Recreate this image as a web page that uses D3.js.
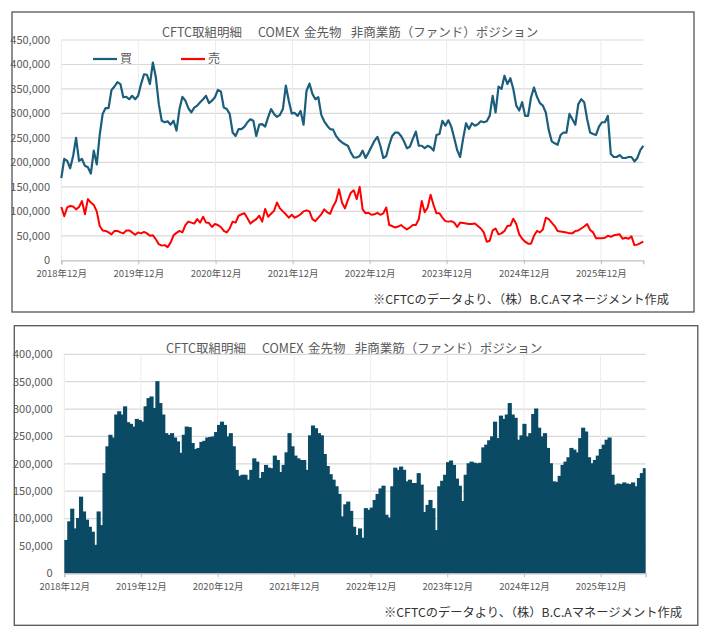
<!DOCTYPE html>
<html>
<head>
<meta charset="utf-8">
<title>CFTC COMEX 金先物</title>
<script src="https://cdnjs.cloudflare.com/ajax/libs/d3/7.8.5/d3.min.js"></script>
<style>
  body { margin: 0; background: #fff; }
  text { font-family: "Noto Sans CJK JP", "Noto Sans", sans-serif; }
</style>
</head>
<body>
<script>
// 2週間ごとの読み取り値（枚数）
const startDate = new Date(2018, 11, 1);
const stepDays = 14;

const longs = [
  168000, 207000, 203000, 188000, 213000, 250000, 203000, 207000, 193000, 190000,
  177000, 224000, 196000, 256000, 299000, 311000, 311000, 348000, 355000, 364000,
  360000, 333000, 334000, 329000, 336000, 329000, 336000, 360000, 380000, 379000,
  360000, 404000, 374000, 319000, 285000, 282000, 284000, 277000, 285000, 265000,
  309000, 334000, 326000, 311000, 302000, 312000, 316000, 323000, 329000, 336000,
  321000, 326000, 333000, 348000, 345000, 312000, 309000, 299000, 261000, 254000,
  268000, 268000, 273000, 282000, 288000, 285000, 254000, 277000, 278000, 273000,
  292000, 309000, 299000, 293000, 297000, 309000, 357000, 326000, 300000, 301000,
  295000, 305000, 277000, 346000, 361000, 340000, 329000, 333000, 297000, 284000,
  275000, 268000, 267000, 254000, 246000, 241000, 237000, 234000, 220000, 210000,
  210000, 213000, 224000, 209000, 220000, 232000, 244000, 252000, 234000, 209000,
  213000, 236000, 254000, 261000, 261000, 254000, 243000, 229000, 232000, 248000,
  263000, 234000, 234000, 229000, 234000, 231000, 224000, 256000, 258000, 285000,
  275000, 286000, 273000, 250000, 225000, 211000, 248000, 280000, 268000, 280000,
  275000, 278000, 284000, 282000, 284000, 295000, 336000, 302000, 355000, 350000,
  377000, 360000, 372000, 350000, 316000, 306000, 323000, 295000, 295000, 333000,
  353000, 334000, 321000, 316000, 302000, 266000, 243000, 239000, 236000, 256000,
  261000, 261000, 299000, 288000, 277000, 319000, 329000, 323000, 288000, 261000,
  258000, 256000, 273000, 282000, 282000, 295000, 217000, 211000, 211000, 215000,
  209000, 209000, 211000, 211000, 202000, 209000, 225000, 234000
];

const shorts = [
  109000, 90000, 108000, 111000, 110000, 104000, 109000, 121000, 94000, 125000,
  118000, 113000, 100000, 70000, 61000, 60000, 57000, 53000, 60000, 60000,
  57000, 55000, 61000, 61000, 57000, 52000, 57000, 55000, 58000, 55000,
  50000, 51000, 43000, 33000, 30000, 31000, 27000, 36000, 51000, 56000,
  60000, 57000, 72000, 79000, 77000, 75000, 84000, 77000, 89000, 77000,
  76000, 68000, 74000, 72000, 68000, 60000, 57000, 65000, 79000, 77000,
  91000, 94000, 96000, 86000, 75000, 80000, 84000, 91000, 79000, 105000,
  89000, 95000, 101000, 118000, 106000, 100000, 94000, 87000, 93000, 87000,
  90000, 94000, 100000, 102000, 100000, 84000, 80000, 87000, 94000, 104000,
  98000, 95000, 110000, 121000, 145000, 118000, 106000, 123000, 138000, 143000,
  125000, 150000, 104000, 96000, 97000, 93000, 94000, 97000, 93000, 96000,
  108000, 72000, 70000, 67000, 69000, 72000, 67000, 63000, 67000, 72000,
  72000, 84000, 121000, 98000, 108000, 134000, 113000, 96000, 96000, 87000,
  80000, 79000, 80000, 77000, 68000, 77000, 76000, 75000, 74000, 74000,
  75000, 70000, 65000, 57000, 38000, 40000, 61000, 65000, 53000, 55000,
  60000, 70000, 71000, 85000, 74000, 53000, 44000, 38000, 34000, 34000,
  50000, 60000, 57000, 63000, 87000, 84000, 77000, 70000, 60000, 59000,
  58000, 57000, 55000, 55000, 60000, 61000, 65000, 69000, 74000, 62000,
  57000, 45000, 45000, 45000, 46000, 50000, 48000, 51000, 52000, 53000,
  44000, 46000, 44000, 49000, 31000, 32000, 35000, 38000
];

const nets = [
  61000, 95000, 118000, 82000, 101000, 140000, 113000, 98000, 85000, 76000,
  52000, 113000, 88000, 183000, 232000, 253000, 248000, 290000, 296000, 290000,
  305000, 276000, 273000, 268000, 282000, 280000, 277000, 305000, 320000, 323000,
  302000, 351000, 311000, 290000, 256000, 253000, 256000, 248000, 241000, 220000,
  253000, 268000, 267000, 238000, 227000, 229000, 240000, 242000, 248000, 249000,
  250000, 258000, 271000, 277000, 271000, 250000, 256000, 232000, 189000, 178000,
  180000, 180000, 171000, 189000, 210000, 204000, 174000, 185000, 198000, 193000,
  192000, 215000, 207000, 185000, 198000, 221000, 256000, 232000, 215000, 210000,
  207000, 207000, 189000, 252000, 270000, 265000, 256000, 252000, 218000, 196000,
  181000, 171000, 159000, 145000, 104000, 126000, 131000, 114000, 85000, 70000,
  82000, 65000, 119000, 116000, 120000, 134000, 145000, 155000, 160000, 107000,
  102000, 159000, 193000, 189000, 195000, 189000, 168000, 171000, 165000, 165000,
  183000, 162000, 112000, 125000, 134000, 119000, 79000, 159000, 169000, 180000,
  203000, 206000, 198000, 173000, 160000, 132000, 180000, 201000, 204000, 202000,
  201000, 202000, 230000, 235000, 243000, 250000, 277000, 247000, 288000, 282000,
  290000, 311000, 290000, 284000, 244000, 252000, 273000, 250000, 256000, 291000,
  301000, 266000, 250000, 256000, 229000, 201000, 168000, 167000, 178000, 198000,
  204000, 212000, 229000, 226000, 221000, 247000, 266000, 259000, 212000, 201000,
  207000, 215000, 227000, 235000, 244000, 248000, 180000, 162000, 164000, 163000,
  166000, 164000, 163000, 166000, 159000, 174000, 183000, 192000
];

const tickLabels = ["2018年12月", "2019年12月", "2020年12月", "2021年12月",
                    "2022年12月", "2023年12月", "2024年12月", "2025年12月"];
const tickDates = [new Date(2018, 11, 1), new Date(2019, 11, 1), new Date(2020, 11, 1),
                   new Date(2021, 11, 1), new Date(2022, 11, 1), new Date(2023, 11, 1),
                   new Date(2024, 11, 1), new Date(2025, 11, 1)];

const titleParts = ["CFTC取組明細", "COMEX", "金先物", "非商業筋（ファンド）ポジション"];
const sourceText = "※CFTCのデータより、（株）B.C.Aマネージメント作成";
const seriesNames = ["買", "売"];

const dates = longs.map((d, i) => d3.timeDay.offset(startDate, i * stepDays));

const W = 709, H = 644;
const blue = "#1b5e7b", red = "#ff0000", barColor = "#0b4a64";
const gray = "#595959";
const fmt = d3.format(",");

const svg = d3.select("body").append("svg")
  .attr("width", W)
  .attr("height", H);

function drawFrame(x, y, w, h) {
  svg.append("rect")
    .attr("x", x).attr("y", y)
    .attr("width", w).attr("height", h)
    .attr("fill", "#fff")
    .attr("stroke", "#555")
    .attr("stroke-width", 1.3);
}

function drawTitle(x0, yb) {
  const offs = [0, 96, 142, 188.7];
  titleParts.forEach((t, i) => {
    svg.append("text")
      .attr("x", x0 + offs[i]).attr("y", yb)
      .attr("font-size", 12.5)
      .attr("fill", gray)
      .text(t);
  });
}

function drawGrid(xs, ys, yTicks) {
  const g = svg.append("g");
  g.selectAll(".hg").data(yTicks.filter(d => d > 0)).enter().append("line")
    .attr("x1", xs.range()[0]).attr("x2", xs.range()[1])
    .attr("y1", d => ys(d)).attr("y2", d => ys(d))
    .attr("stroke", "#d9d9d9").attr("stroke-width", 1.2);
  g.selectAll(".vg").data(tickDates).enter().append("line")
    .attr("x1", d => xs(d)).attr("x2", d => xs(d))
    .attr("y1", ys.range()[1]).attr("y2", ys.range()[0])
    .attr("stroke", "#ececec").attr("stroke-width", 1);
}

function drawAxes(xs, ys, yTicks, yLabelX) {
  const xAxis = d3.axisBottom(xs)
    .tickValues(tickDates)
    .tickFormat((d, i) => tickLabels[i])
    .tickSize(4)
    .tickPadding(6);
  const gx = svg.append("g")
    .attr("transform", "translate(0," + ys(0) + ")")
    .call(xAxis);
  gx.select(".domain").attr("stroke", "#bfbfbf").attr("stroke-width", 1.3);
  gx.selectAll(".tick line").attr("stroke", "#bfbfbf");
  gx.selectAll(".tick text")
    .attr("fill", gray)
    .attr("font-size", 9.5)
    .style("font-family", '"Noto Sans CJK JP", sans-serif');

  svg.append("g").selectAll("text").data(yTicks).enter().append("text")
    .attr("x", yLabelX)
    .attr("y", d => ys(d))
    .attr("dy", "0.35em")
    .attr("text-anchor", "end")
    .attr("font-size", 11)
    .attr("fill", gray)
    .text(d => fmt(d));
}

// ---------- 上段: 買・売 ----------
drawFrame(12, 12, 682, 300);
drawTitle(162, 37);

const x1 = d3.scaleTime().domain([dates[0], dates[dates.length - 1]]).range([61.3, 643.3]);
const y1 = d3.scaleLinear().domain([0, 450000]).range([260.3, 40]);
const ticks1 = d3.range(0, 450001, 50000);

drawGrid(x1, y1, ticks1);
drawAxes(x1, y1, ticks1, 50);

const line1 = d3.line().x((d, i) => x1(dates[i])).y(d => y1(d));

svg.append("path").datum(longs)
  .attr("d", line1)
  .attr("fill", "none")
  .attr("stroke", blue)
  .attr("stroke-width", 2.2)
  .attr("stroke-linejoin", "round");

svg.append("path").datum(shorts)
  .attr("d", line1)
  .attr("fill", "none")
  .attr("stroke", red)
  .attr("stroke-width", 2)
  .attr("stroke-linejoin", "round");

// 凡例
const legend = svg.append("g");
[[93, blue], [181, red]].forEach((p, i) => {
  legend.append("line")
    .attr("x1", p[0]).attr("x2", p[0] + 24)
    .attr("y1", 59).attr("y2", 59)
    .attr("stroke", p[1]).attr("stroke-width", 2.2);
  legend.append("text")
    .attr("x", p[0] + 27).attr("y", 59)
    .attr("dy", "0.36em")
    .attr("font-size", 12)
    .attr("fill", gray)
    .text(seriesNames[i]);
});

svg.append("text")
  .attr("x", 373).attr("y", 304)
  .attr("font-size", 12)
  .attr("fill", "#333")
  .attr("textLength", 296)
  .attr("lengthAdjust", "spacingAndGlyphs")
  .text(sourceText);

// ---------- 下段: ネット ----------
drawFrame(14.3, 325.7, 683.5, 299.6);
drawTitle(166, 353);

const x2 = d3.scaleTime()
  .domain([dates[0], d3.timeDay.offset(dates[dates.length - 1], stepDays)])
  .range([64.3, 645.7]);
const y2 = d3.scaleLinear().domain([0, 400000]).range([573.3, 354.3]);
const ticks2 = d3.range(0, 400001, 50000);

drawGrid(x2, y2, ticks2);

// 棒の間に隙間が出ないよう少し重ねる（最後の棒は右端で止める）
svg.append("g").selectAll("rect").data(nets).enter().append("rect")
  .attr("x", (d, i) => x2(dates[i]))
  .attr("width", (d, i) => x2(d3.timeDay.offset(dates[i], stepDays)) - x2(dates[i]) + (i < nets.length - 1 ? 1.2 : 0))
  .attr("y", d => y2(d))
  .attr("height", d => y2(0) - y2(d))
  .attr("fill", barColor);

drawAxes(x2, y2, ticks2, 52.7);

svg.append("text")
  .attr("x", 384).attr("y", 617)
  .attr("font-size", 12)
  .attr("fill", "#333")
  .attr("textLength", 298)
  .attr("lengthAdjust", "spacingAndGlyphs")
  .text(sourceText);
</script>
</body>
</html>
